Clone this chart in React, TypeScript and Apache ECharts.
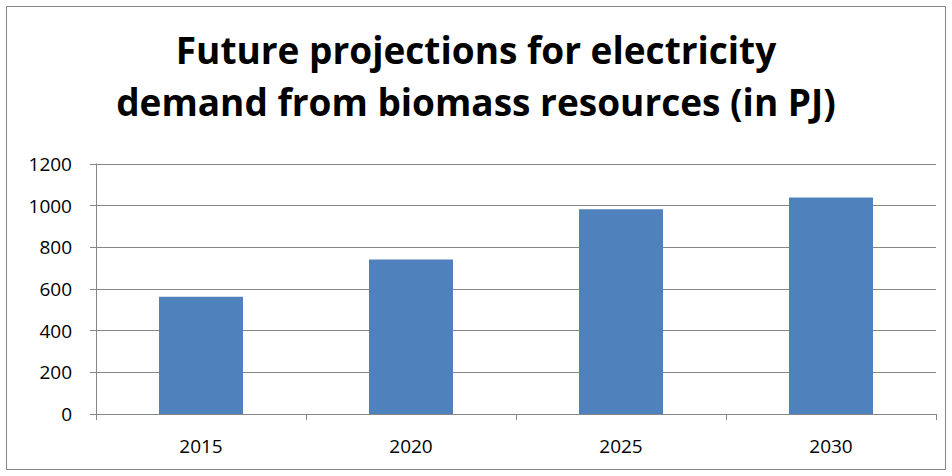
import React, { useEffect, useRef } from "react";
import * as echarts from "echarts";

const years = ["2015", "2020", "2025", "2030"];
const demandPJ = [563, 742, 983, 1039];
const titleLines = ["Future projections for electricity", "demand from biomass resources (in PJ)"];

export default function App() {
  const ref = useRef<HTMLDivElement>(null);
  useEffect(() => {
    const chart = echarts.init(ref.current!, null, { renderer: "svg" });
    chart.setOption({
      animation: false,
      backgroundColor: "#ffffff",
      graphic: [
        {
          type: "rect",
          shape: { x: 6.5, y: 6.5, width: 939, height: 463 },
          style: { fill: "none", stroke: "#868686", lineWidth: 1 },
          z: -1,
        },
      ],
      title: {
        text: titleLines.join("\n"),
        left: "center",
        top: 18,
        textStyle: {
          fontFamily: "Open Sans",
          fontWeight: "bold",
          fontSize: 37,
          lineHeight: 52,
          color: "#000000",
        },
      },
      grid: { left: 96, right: 16, top: 164, bottom: 62 },
      xAxis: {
        type: "category",
        data: years,
        axisLine: { lineStyle: { color: "#868686", width: 1 } },
        axisTick: { show: true, alignWithLabel: false, length: 6, lineStyle: { color: "#868686" } },
        axisLabel: { color: "#000000", fontFamily: "Open Sans", fontSize: 19, margin: 22 },
      },
      yAxis: {
        type: "value",
        min: 0,
        max: 1200,
        interval: 200,
        axisLine: { show: true, lineStyle: { color: "#868686", width: 1 } },
        axisTick: { show: true, length: 6, lineStyle: { color: "#868686" } },
        axisLabel: {
          color: "#000000",
          fontFamily: "Open Sans",
          fontSize: 19,
          margin: 24,
          formatter: (v: number) => String(v),
        },
        splitLine: { lineStyle: { color: "#868686", width: 1 } },
      },
      series: [
        {
          type: "bar",
          data: demandPJ,
          barWidth: "40%",
          itemStyle: { color: "#4F81BD" },
        },
      ],
    });
    return () => chart.dispose();
  }, []);
  return (
    <div
      ref={ref}
      style={{ position: "fixed", left: 0, top: 0, width: 952, height: 476 }}
    />
  );
}
